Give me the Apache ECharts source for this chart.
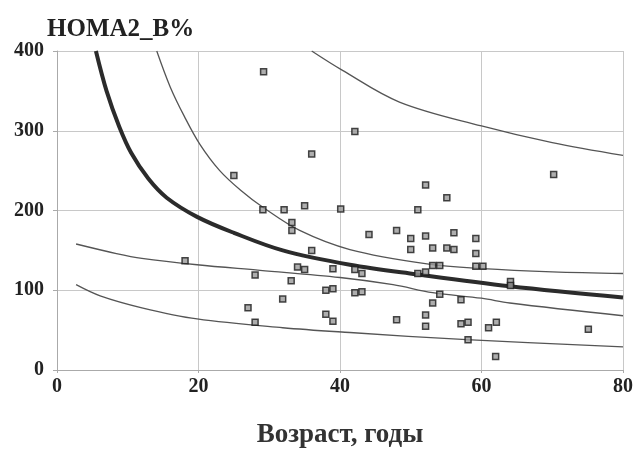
<!DOCTYPE html>
<html>
<head>
<meta charset="utf-8">
<script src="https://cdn.jsdelivr.net/npm/echarts@6/dist/echarts.min.js"></script>
<style>
html,body{margin:0;padding:0;background:#fff;}
#c{width:644px;height:454px;}
</style>
</head>
<body>
<div id="c"></div>
<script>
// Scatter points: [age, HOMA2_B%]
var points = [
  [29.2,374],[42.1,299],[36.0,271],[25.0,244],[70.2,245],
  [29.1,201],[32.1,201],[35.0,206],[40.1,202],[52.1,232],[55.1,216],[51.0,201],
  [33.2,185],[33.2,175],[36.0,150],[18.1,137],[34.0,129],[35.0,126],[39.0,127],
  [28.0,119],[33.1,112],[38.0,100],[39.0,102],[31.9,89],[27.0,78],[38.0,70],
  [28.0,60],[39.0,61],[44.1,170],[48.0,175],[50.0,165],[52.1,168],[56.1,172],
  [59.2,165],[50.0,151],[53.1,153],[55.1,153],[56.1,151],[59.2,146],[53.1,131],
  [54.1,131],[59.2,130],[60.2,130],[42.1,126],[43.1,121],[51.0,121],[52.1,123],
  [64.1,111],[64.1,106],[42.1,97],[43.1,98],[54.1,95],[53.1,84],[57.1,88],
  [48.0,63],[52.1,69],[52.1,55],[57.1,58],[58.1,60],[58.1,38],[61.0,53],
  [62.1,60],[62.0,17],[75.1,51]
];
// Thick (central) curve
var curveMain = [[5.5,400],[7,350],[8.8,305],[10.5,272],[12.9,240],[15.5,216],[19.8,192],[25,172],[31.9,150],[41.4,132],[50.8,120],[64,105],[80,91]];
// Thin upper curve (inner)
var curveUp1 = [[14.1,400],[16,355],[18,318],[20.2,283],[23,250],[26,225],[29.1,204],[34.3,175],[41.4,151],[52.3,133],[60.2,127],[70,123],[80,121]];
// Thin upper curve (outer)
var curveUp2 = [[36,400],[40.3,376],[48.4,336],[60,306],[70,285],[80,269]];
// Thin lower curve (inner)
var curveLow1 = [[2.7,158],[8.4,146],[12,140],[19.8,132],[28.7,125],[40,116],[47.5,107],[53.1,97],[60,90],[64,84],[80,68]];
// Thin lower curve (outer)
var curveLow2 = [[2.7,107],[6.1,93],[12,78],[19.8,64],[31.9,53],[41.4,47],[57.9,38],[80,29]];

var xTicks = [0,20,40,60,80];
var yTicks = [0,100,200,300,400];

var serif = '"Liberation Serif","Times New Roman",serif';
var chart = echarts.init(document.getElementById('c'), null, {renderer:'canvas'});

function thin(data){
  return {type:'line', data:data, smooth:0.35, showSymbol:false, silent:true,
    lineStyle:{color:'#555', width:1.3}, z:2};
}

chart.setOption({
  animation:false,
  backgroundColor:'#fff',
  title:{text:'HOMA2_B%', left:42, top:12,
    textStyle:{fontFamily:serif, fontWeight:'bold', fontSize:25, color:'#222'}},
  grid:{left:57, right:21, top:51, bottom:79},
  xAxis:{type:'value', min:0, max:80, interval:20,
    name:'Возраст, годы', nameLocation:'middle', nameGap:52,
    nameTextStyle:{fontFamily:serif, fontWeight:'bold', fontSize:27, color:'#333'},
    axisLine:{show:true, lineStyle:{color:'#aaa', width:1}},
    axisTick:{show:true, length:3, lineStyle:{color:'#aaa'}},
    axisLabel:{fontFamily:serif, fontWeight:'bold', fontSize:20, color:'#222', margin:7},
    splitLine:{show:true, lineStyle:{color:'#c8c8c8', width:1}}
  },
  yAxis:{type:'value', min:0, max:400, interval:100,
    axisLine:{show:true, lineStyle:{color:'#aaa', width:1}},
    axisTick:{show:true, length:4, lineStyle:{color:'#aaa'}},
    axisLabel:{fontFamily:serif, fontWeight:'bold', fontSize:20, color:'#222', margin:13},
    splitLine:{show:true, lineStyle:{color:'#c8c8c8', width:1}}
  },
  series:[
    thin(curveUp2), thin(curveUp1), thin(curveLow1), thin(curveLow2),
    {type:'line', data:curveMain, smooth:0.35, showSymbol:false, silent:true,
      lineStyle:{color:'#2b2b2b', width:4}, z:3},
    {type:'scatter', data:points, symbol:'rect', symbolSize:6,
      itemStyle:{color:'#9a9a9a', borderColor:'#1a1a1a', borderWidth:1.5}, z:5}
  ]
});
</script>
</body>
</html>
